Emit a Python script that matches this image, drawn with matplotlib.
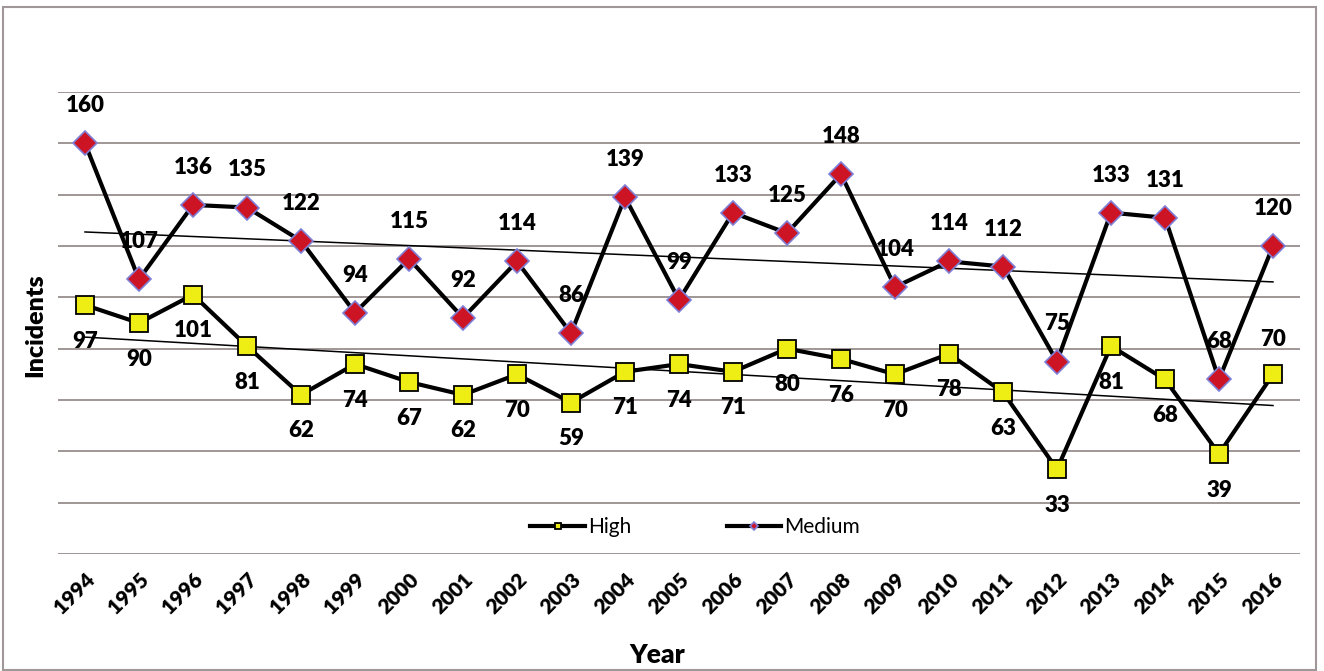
import numpy as np
import matplotlib
matplotlib.use('Agg')
import matplotlib.pyplot as plt
from matplotlib.patches import Rectangle

plt.rcParams['font.family'] = ['Lato', 'DejaVu Sans']

# données
years = [str(y) for y in range(1994, 2017)]
high = [97, 90, 101, 81, 62, 74, 67, 62, 70, 59, 71, 74, 71, 80, 76, 70, 78, 63, 33, 81, 68, 39, 70]
medium = [160, 107, 136, 135, 122, 94, 115, 92, 114, 86, 139, 99, 133, 125, 148, 104, 114, 112, 75, 133, 131, 68, 120]

x = np.arange(len(years))

fig = plt.figure(figsize=(13.24, 6.71), dpi=100)
ax = fig.add_axes([58 / 1324, 1 - 554 / 671, 1242 / 1324, 462 / 671])

# lignes de grille
for g in range(0, 181, 20):
    ax.axhline(g, color='#978d8d', lw=1.3, zorder=0)

# séries
ax.plot(x, high, color='black', lw=3, marker='s', ms=12.5,
        markerfacecolor='#eeee14', markeredgecolor='black', markeredgewidth=1.3,
        label='High', zorder=3)
ax.plot(x, medium, color='black', lw=3, marker='D', ms=12.5,
        markerfacecolor='#cc1424', markeredgecolor='#7f7fd8', markeredgewidth=1.2,
        label='Medium', zorder=4)

# courbes de tendance linéaires
for serie in (high, medium):
    a, b = np.polyfit(x, serie, 1)
    ax.plot([x[0], x[-1]], [a * x[0] + b, a * x[-1] + b], color='black', lw=1.1, zorder=2)

# étiquettes de données
for i, v in enumerate(medium):
    ax.annotate(str(v), (x[i], v), xytext=(0, 27), textcoords='offset points',
                ha='center', va='center', fontsize=16, fontweight='heavy', zorder=5)
for i, v in enumerate(high):
    dy = 25 if i == len(high) - 1 else -26
    ax.annotate(str(v), (x[i], v), xytext=(0, dy), textcoords='offset points',
                ha='center', va='center', fontsize=16, fontweight='heavy', zorder=5)

ax.set_xlim(-0.5, len(years) - 0.5)
ax.set_ylim(0, 180)
ax.set_yticks([])
ax.set_xticks(x)
ax.set_xticklabels(years, rotation=45, ha='right', va='top', rotation_mode='anchor',
                   fontsize=15, fontweight='heavy')
ax.tick_params(axis='x', length=0, pad=11)
for s in ax.spines.values():
    s.set_visible(False)

leg = ax.legend(loc='center', bbox_to_anchor=(0.513, 0.058), ncol=2, frameon=False,
                fontsize=15, handlelength=2.6, markerscale=0.4, columnspacing=4.6,
                handletextpad=0.15)
leg.legend_handles[1].set_markersize(4)

fig.text(657 / 1324, 1 - 655 / 671, 'Year', ha='center', va='center',
         fontsize=19, fontweight='heavy')
fig.text(35 / 1324, 1 - 325 / 671, 'Incidents', ha='center', va='center',
         rotation=90, fontsize=18, fontweight='heavy')

fig.patches.append(Rectangle((3 / 1324, 1 / 671), 1313 / 1324, 663 / 671,
                             transform=fig.transFigure, fill=False,
                             edgecolor='#a09898', lw=1.5))

fig.savefig('out.png', dpi=100)
